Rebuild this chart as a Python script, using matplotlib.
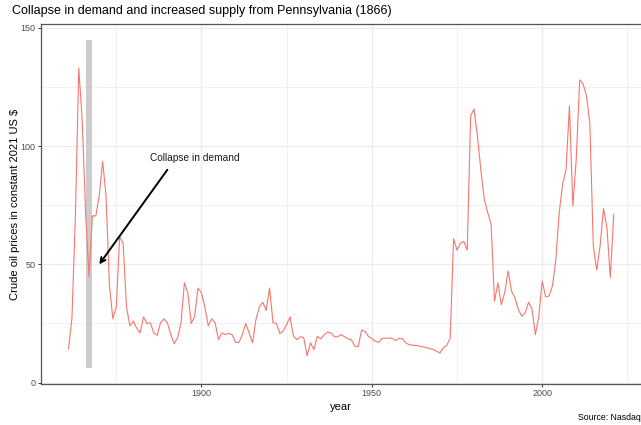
import numpy as np
import matplotlib
matplotlib.use("Agg")
import matplotlib.pyplot as plt
from matplotlib.ticker import MultipleLocator

plt.rcParams["font.family"] = ["Liberation Sans", "DejaVu Sans"]

# crude oil price, constant 2021 US $
years = np.arange(1861, 2022)
price = [
    14.4, 27.4, 70, 133, 111, 72, 44.8, 70.5, 70.5, 79,          # 1861-1870
    93.5, 79, 41, 27, 32, 61.7, 59, 32, 24, 26,                  # 1871-1880
    23, 21, 27.8, 24.9, 25.3, 21, 20, 25.3, 27, 25.3,            # 1881-1890
    20.3, 16.5, 19, 25.3, 42.2, 38, 25, 28, 40, 38,              # 1891-1900
    32, 24, 27, 25.3, 18.2, 21, 20.3, 20.8, 20.3, 17,            # 1901-1910
    17, 20.3, 25, 21, 16.8, 26.7, 32, 34, 30.5, 40,              # 1911-1920
    25.3, 25, 20.8, 21.7, 24.6, 27.8, 19.6, 18.2, 19.4, 19,      # 1921-1930
    11.4, 16.8, 14, 19.6, 18.5, 20.2, 21.3, 21, 19.4, 19.4,      # 1931-1940
    20.3, 19.4, 18.5, 18.1, 15.4, 15.2, 22.2, 21.6, 19.6, 18.6,  # 1941-1950
    17.5, 17, 18.7, 18.8, 18.8, 18.7, 17.8, 18.7, 18.5, 16.8,    # 1951-1960
    16, 15.8, 15.7, 15.4, 15.1, 14.8, 14.4, 14, 13.3, 12.5,      # 1961-1970
    14.8, 15.8, 18.8, 60.9, 56, 58.9, 59.7, 56, 112.8, 115.7,    # 1971-1980
    104, 90, 77.5, 72, 67, 34.4, 42.2, 33, 38, 47.2,             # 1981-1990
    38.7, 35.9, 31, 28, 29.5, 34, 31.2, 20.3, 28, 43,            # 1991-2000
    36.3, 36.6, 40.8, 52, 72, 83.9, 90, 117, 74.7, 94.5,         # 2001-2010
    128, 126.3, 121.3, 109.3, 57.8, 47.6, 57.8, 73.6, 65.5, 44.4, 71.2,  # 2011-2021
]

# highlighted period and annotation
band_years = [1866, 1868]
band_range = [6, 145]
arrow_from = (1890, 90)
arrow_to = (1870, 50)
note_pos = (1898, 95)
note_text = "Collapse in demand"

fig = plt.figure(figsize=(6.41, 4.25), dpi=100)
ax = fig.add_axes([41.3 / 641, 1 - 383.7 / 425, 1 - 41.3 / 641, (383.7 - 24.3) / 425])

ax.fill_between(band_years, band_range[0], band_range[1], color="#cccccc", lw=0, zorder=2)
ax.plot(years, price, color="#F8766D", lw=0.8, zorder=3)
ax.annotate("", xy=arrow_to, xytext=arrow_from,
            arrowprops=dict(arrowstyle="->", color="black", lw=1.4,
                            mutation_scale=9, shrinkA=0, shrinkB=0), zorder=4)
ax.text(note_pos[0], note_pos[1], note_text, ha="center", va="center",
        fontsize=7.3, color="#1a1a1a", zorder=4)

ax.set_xlim(1853, 2029)
ax.set_ylim(-0.46, 151.5)
ax.xaxis.set_major_locator(MultipleLocator(50))
ax.xaxis.set_minor_locator(MultipleLocator(25))
ax.yaxis.set_major_locator(MultipleLocator(50))
ax.yaxis.set_minor_locator(MultipleLocator(25))
ax.grid(which="major", color="#ebebeb", lw=0.9, zorder=0)
ax.grid(which="minor", color="#ebebeb", lw=0.5, zorder=0)
ax.set_axisbelow(True)
ax.tick_params(which="major", length=2.5, width=0.7, color="#333333",
               labelsize=6.5, labelcolor="#4d4d4d", pad=1.5)
ax.tick_params(which="minor", length=0)

for side in ["left", "bottom", "top"]:
    ax.spines[side].set_color("#555555")
    ax.spines[side].set_linewidth(0.9)
ax.spines["right"].set_visible(False)

ax.set_xlabel("year", fontsize=8, labelpad=3)
ax.set_ylabel("Crude oil prices in constant 2021 US $", fontsize=8, labelpad=0.5)

fig.text(12 / 641, 1 - 11 / 425, "Collapse in demand and increased supply from Pennsylvania (1866)",
         fontsize=9.0, ha="left", va="center")
fig.text(1.0, 1 - 418 / 425, "Source: Nasdaq", fontsize=6.3, ha="right", va="center")

fig.savefig("out.png", dpi=100)
